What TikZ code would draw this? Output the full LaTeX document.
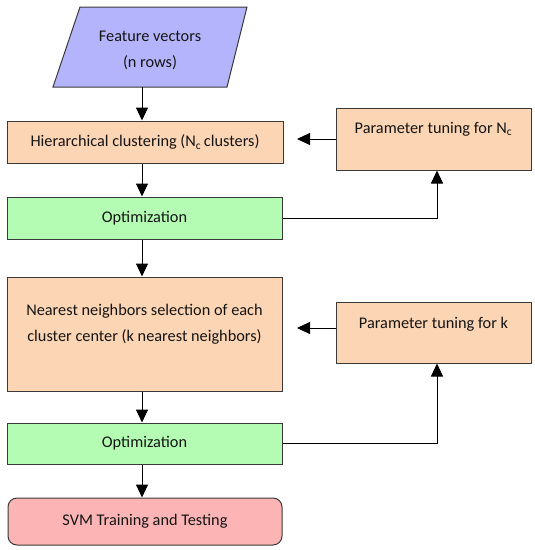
\documentclass[tikz,border=0pt]{standalone}
\usepackage{fontspec}
\setmainfont{Carlito}
\usetikzlibrary{arrows.meta}
\definecolor{purp}{HTML}{B4B4FC}
\definecolor{orng}{HTML}{FCD5B4}
\definecolor{grn}{HTML}{B4FCB4}
\definecolor{pnk}{HTML}{FCB4B4}
\definecolor{edgec}{HTML}{3A3A3A}
\definecolor{txt}{HTML}{151515}
\begin{document}
\begin{tikzpicture}[x=1pt,y=-1pt,
  box/.style={draw=edgec, line width=1pt, rectangle, inner sep=0pt},
  lbl/.style={font=\fontsize{16.3}{26}\selectfont, text=txt, align=center, inner sep=0pt},
  arr/.style={line width=1pt, -{Triangle[width=12pt,length=13pt]}}]
\useasboundingbox (0,0) rectangle (535,550);
% parallelogram
\coordinate (p1) at (80,7);
\coordinate (p2) at (247,7);
\coordinate (p3) at (227,87);
\coordinate (p4) at (53,87);
\draw[fill=purp, draw=edgec, line width=1pt] (p1) -- (p2) -- (p3) -- (p4) -- cycle;
\coordinate (featbot) at (142,87);
\node[lbl] (feat) at (150,50) {Feature vectors\\(n rows)};
% main column
\node[box, fill=orng, minimum width=276pt, minimum height=42pt] (hier) at (145,142) {};
\node[lbl] (hiert) at (hier.center) {Hierarchical clustering (N\textsubscript{c}\,clusters)};
\node[box, fill=grn, minimum width=275pt, minimum height=42pt] (opt1) at (144.5,218) {};
\node[lbl] (opt1t) at (opt1.center) {Optimization};
\node[box, fill=orng, minimum width=275pt, minimum height=114pt] (nn) at (144.5,334) {};
\node[lbl] (nnt) at (144.5,324) {Nearest neighbors selection of each\\cluster center (k nearest neighbors)};
\node[box, fill=grn, minimum width=275pt, minimum height=41pt] (opt2) at (144.5,443.5) {};
\node[lbl] (opt2t) at (opt2.center) {Optimization};
\node[box, fill=pnk, minimum width=274pt, minimum height=47pt, rounded corners=9pt] (svm) at (145,521.5) {};
\node[lbl] (svmt) at (svm.center) {SVM Training and Testing};
% parameter boxes
\node[box, fill=orng, minimum width=195pt, minimum height=62pt] (pnc) at (433.5,139) {};
\node[lbl] (pnct) at (433.5,129) {Parameter tuning for N\textsubscript{c}};
\node[box, fill=orng, minimum width=195pt, minimum height=61pt] (pk) at (433.5,332.5) {};
\node[lbl] (pkt) at (433.5,324) {Parameter tuning for k};
\coordinate (pncend) at (297,139);
\coordinate (pkend) at (297,328);
% connectors
\draw[arr] (featbot) -- ([xshift=-3pt]hier.north);
\draw[arr] ([xshift=-3pt]hier.south) -- ([xshift=-2.5pt]opt1.north);
\draw[arr] ([xshift=-2.5pt]opt1.south) -- ([xshift=-2.5pt]nn.north);
\draw[arr] ([xshift=-2.5pt]nn.south) -- ([xshift=-2.5pt]opt2.north);
\draw[arr] ([xshift=-2.5pt]opt2.south) -- ([xshift=-3pt]svm.north);
\draw[arr] (pnc.west) -- (pncend);
\draw[arr] ([yshift=4.5pt]pk.west) -- (pkend);
\draw[arr] (opt1.east) -| ([xshift=3.5pt]pnc.south);
\draw[arr] (opt2.east) -| ([xshift=3.5pt]pk.south);
\end{tikzpicture}
\end{document}
